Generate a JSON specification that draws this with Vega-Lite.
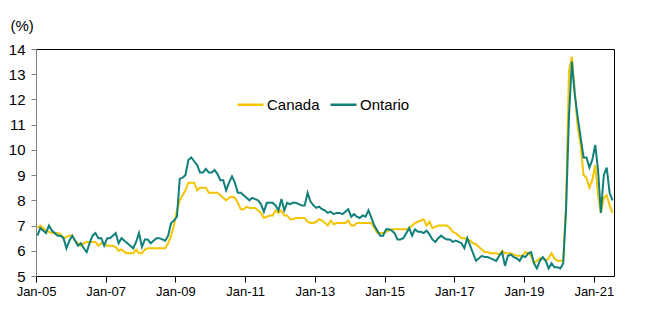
{
"$schema": "https://vega.github.io/schema/vega-lite/v6.json",
"width": 578, "height": 227,
"autosize": {"type": "none"},
"padding": {"left": 36, "top": 49, "right": 42, "bottom": 54},
"background": "white",
"config": {"view": {"stroke": "#000", "strokeWidth": 1}, "font": "Liberation Sans"},
"data": {"values": [
{"month":"2005-01","Canada":6.9,"Ontario":6.6},{"month":"2005-02","Canada":7.0,"Ontario":6.9},{"month":"2005-03","Canada":6.9,"Ontario":6.8},{"month":"2005-04","Canada":6.8,"Ontario":6.7},{"month":"2005-05","Canada":6.75,"Ontario":7.0},{"month":"2005-06","Canada":6.7,"Ontario":6.8},{"month":"2005-07","Canada":6.7,"Ontario":6.7},{"month":"2005-08","Canada":6.7,"Ontario":6.6},{"month":"2005-09","Canada":6.65,"Ontario":6.6},{"month":"2005-10","Canada":6.5,"Ontario":6.5},{"month":"2005-11","Canada":6.55,"Ontario":6.1},{"month":"2005-12","Canada":6.6,"Ontario":6.4},
{"month":"2006-01","Canada":6.6,"Ontario":6.6},{"month":"2006-02","Canada":6.4,"Ontario":6.4},{"month":"2006-03","Canada":6.3,"Ontario":6.2},{"month":"2006-04","Canada":6.2,"Ontario":6.3},{"month":"2006-05","Canada":6.3,"Ontario":6.1},{"month":"2006-06","Canada":6.35,"Ontario":5.95},{"month":"2006-07","Canada":6.35,"Ontario":6.3},{"month":"2006-08","Canada":6.35,"Ontario":6.6},{"month":"2006-09","Canada":6.35,"Ontario":6.7},{"month":"2006-10","Canada":6.2,"Ontario":6.5},{"month":"2006-11","Canada":6.3,"Ontario":6.5},{"month":"2006-12","Canada":6.3,"Ontario":6.2},
{"month":"2007-01","Canada":6.2,"Ontario":6.5},{"month":"2007-02","Canada":6.2,"Ontario":6.5},{"month":"2007-03","Canada":6.2,"Ontario":6.6},{"month":"2007-04","Canada":6.15,"Ontario":6.7},{"month":"2007-05","Canada":6.0,"Ontario":6.3},{"month":"2007-06","Canada":6.05,"Ontario":6.5},{"month":"2007-07","Canada":5.95,"Ontario":6.4},{"month":"2007-08","Canada":5.9,"Ontario":6.3},{"month":"2007-09","Canada":5.9,"Ontario":6.2},{"month":"2007-10","Canada":5.9,"Ontario":6.1},{"month":"2007-11","Canada":6.05,"Ontario":6.35},{"month":"2007-12","Canada":5.9,"Ontario":6.7},
{"month":"2008-01","Canada":5.9,"Ontario":6.15},{"month":"2008-02","Canada":6.05,"Ontario":6.45},{"month":"2008-03","Canada":6.1,"Ontario":6.45},{"month":"2008-04","Canada":6.1,"Ontario":6.3},{"month":"2008-05","Canada":6.1,"Ontario":6.4},{"month":"2008-06","Canada":6.1,"Ontario":6.5},{"month":"2008-07","Canada":6.1,"Ontario":6.5},{"month":"2008-08","Canada":6.1,"Ontario":6.45},{"month":"2008-09","Canada":6.1,"Ontario":6.4},{"month":"2008-10","Canada":6.3,"Ontario":6.6},{"month":"2008-11","Canada":6.6,"Ontario":7.1},{"month":"2008-12","Canada":7.0,"Ontario":7.2},
{"month":"2009-01","Canada":7.6,"Ontario":7.35},{"month":"2009-02","Canada":8.0,"Ontario":8.85},{"month":"2009-03","Canada":8.2,"Ontario":8.9},{"month":"2009-04","Canada":8.4,"Ontario":9.0},{"month":"2009-05","Canada":8.7,"Ontario":9.6},{"month":"2009-06","Canada":8.7,"Ontario":9.7},{"month":"2009-07","Canada":8.7,"Ontario":9.55},{"month":"2009-08","Canada":8.4,"Ontario":9.4},{"month":"2009-09","Canada":8.5,"Ontario":9.1},{"month":"2009-10","Canada":8.5,"Ontario":9.1},{"month":"2009-11","Canada":8.5,"Ontario":9.25},{"month":"2009-12","Canada":8.3,"Ontario":9.1},
{"month":"2010-01","Canada":8.3,"Ontario":9.1},{"month":"2010-02","Canada":8.3,"Ontario":9.2},{"month":"2010-03","Canada":8.3,"Ontario":9.05},{"month":"2010-04","Canada":8.2,"Ontario":8.8},{"month":"2010-05","Canada":8.1,"Ontario":8.8},{"month":"2010-06","Canada":8.0,"Ontario":8.4},{"month":"2010-07","Canada":8.1,"Ontario":8.7},{"month":"2010-08","Canada":8.15,"Ontario":8.95},{"month":"2010-09","Canada":8.1,"Ontario":8.7},{"month":"2010-10","Canada":7.9,"Ontario":8.3},{"month":"2010-11","Canada":7.65,"Ontario":8.3},{"month":"2010-12","Canada":7.65,"Ontario":8.2},
{"month":"2011-01","Canada":7.75,"Ontario":8.1},{"month":"2011-02","Canada":7.7,"Ontario":8.0},{"month":"2011-03","Canada":7.7,"Ontario":8.1},{"month":"2011-04","Canada":7.7,"Ontario":8.05},{"month":"2011-05","Canada":7.6,"Ontario":8.0},{"month":"2011-06","Canada":7.5,"Ontario":7.85},{"month":"2011-07","Canada":7.3,"Ontario":7.55},{"month":"2011-08","Canada":7.35,"Ontario":7.9},{"month":"2011-09","Canada":7.4,"Ontario":7.9},{"month":"2011-10","Canada":7.4,"Ontario":7.9},{"month":"2011-11","Canada":7.6,"Ontario":7.8},{"month":"2011-12","Canada":7.5,"Ontario":7.6},
{"month":"2012-01","Canada":7.6,"Ontario":8.05},{"month":"2012-02","Canada":7.4,"Ontario":7.6},{"month":"2012-03","Canada":7.4,"Ontario":7.9},{"month":"2012-04","Canada":7.25,"Ontario":7.85},{"month":"2012-05","Canada":7.25,"Ontario":7.9},{"month":"2012-06","Canada":7.3,"Ontario":7.9},{"month":"2012-07","Canada":7.3,"Ontario":7.85},{"month":"2012-08","Canada":7.3,"Ontario":7.8},{"month":"2012-09","Canada":7.3,"Ontario":7.8},{"month":"2012-10","Canada":7.15,"Ontario":8.3},{"month":"2012-11","Canada":7.1,"Ontario":7.95},{"month":"2012-12","Canada":7.1,"Ontario":7.8},
{"month":"2013-01","Canada":7.15,"Ontario":7.7},{"month":"2013-02","Canada":7.25,"Ontario":7.75},{"month":"2013-03","Canada":7.2,"Ontario":7.65},{"month":"2013-04","Canada":7.1,"Ontario":7.6},{"month":"2013-05","Canada":7.0,"Ontario":7.5},{"month":"2013-06","Canada":7.2,"Ontario":7.55},{"month":"2013-07","Canada":7.05,"Ontario":7.45},{"month":"2013-08","Canada":7.1,"Ontario":7.5},{"month":"2013-09","Canada":7.1,"Ontario":7.5},{"month":"2013-10","Canada":7.1,"Ontario":7.45},{"month":"2013-11","Canada":7.1,"Ontario":7.55},{"month":"2013-12","Canada":7.2,"Ontario":7.65},
{"month":"2014-01","Canada":7.0,"Ontario":7.35},{"month":"2014-02","Canada":7.0,"Ontario":7.45},{"month":"2014-03","Canada":7.1,"Ontario":7.35},{"month":"2014-04","Canada":7.1,"Ontario":7.3},{"month":"2014-05","Canada":7.1,"Ontario":7.4},{"month":"2014-06","Canada":7.1,"Ontario":7.35},{"month":"2014-07","Canada":7.1,"Ontario":7.6},{"month":"2014-08","Canada":7.1,"Ontario":7.3},{"month":"2014-09","Canada":6.9,"Ontario":7.0},{"month":"2014-10","Canada":6.7,"Ontario":6.8},{"month":"2014-11","Canada":6.7,"Ontario":6.6},{"month":"2014-12","Canada":6.7,"Ontario":6.6},
{"month":"2015-01","Canada":6.75,"Ontario":6.85},{"month":"2015-02","Canada":6.8,"Ontario":6.85},{"month":"2015-03","Canada":6.85,"Ontario":6.8},{"month":"2015-04","Canada":6.85,"Ontario":6.7},{"month":"2015-05","Canada":6.85,"Ontario":6.45},{"month":"2015-06","Canada":6.85,"Ontario":6.45},{"month":"2015-07","Canada":6.85,"Ontario":6.5},{"month":"2015-08","Canada":6.85,"Ontario":6.7},{"month":"2015-09","Canada":6.9,"Ontario":6.9},{"month":"2015-10","Canada":7.0,"Ontario":6.6},{"month":"2015-11","Canada":7.1,"Ontario":6.85},{"month":"2015-12","Canada":7.15,"Ontario":6.75},
{"month":"2016-01","Canada":7.2,"Ontario":6.75},{"month":"2016-02","Canada":7.25,"Ontario":6.7},{"month":"2016-03","Canada":7.0,"Ontario":6.8},{"month":"2016-04","Canada":7.15,"Ontario":6.65},{"month":"2016-05","Canada":6.9,"Ontario":6.45},{"month":"2016-06","Canada":6.95,"Ontario":6.35},{"month":"2016-07","Canada":7.0,"Ontario":6.5},{"month":"2016-08","Canada":7.0,"Ontario":6.6},{"month":"2016-09","Canada":7.0,"Ontario":6.5},{"month":"2016-10","Canada":7.0,"Ontario":6.45},{"month":"2016-11","Canada":6.9,"Ontario":6.45},{"month":"2016-12","Canada":6.75,"Ontario":6.35},
{"month":"2017-01","Canada":6.7,"Ontario":6.4},{"month":"2017-02","Canada":6.6,"Ontario":6.35},{"month":"2017-03","Canada":6.5,"Ontario":6.3},{"month":"2017-04","Canada":6.5,"Ontario":6.1},{"month":"2017-05","Canada":6.45,"Ontario":6.5},{"month":"2017-06","Canada":6.4,"Ontario":6.2},{"month":"2017-07","Canada":6.3,"Ontario":5.9},{"month":"2017-08","Canada":6.25,"Ontario":5.6},{"month":"2017-09","Canada":6.15,"Ontario":5.7},{"month":"2017-10","Canada":6.05,"Ontario":5.8},{"month":"2017-11","Canada":5.95,"Ontario":5.75},{"month":"2017-12","Canada":5.95,"Ontario":5.75},
{"month":"2018-01","Canada":5.9,"Ontario":5.7},{"month":"2018-02","Canada":5.9,"Ontario":5.65},{"month":"2018-03","Canada":5.9,"Ontario":5.6},{"month":"2018-04","Canada":5.85,"Ontario":5.8},{"month":"2018-05","Canada":6.0,"Ontario":5.95},{"month":"2018-06","Canada":5.9,"Ontario":5.4},{"month":"2018-07","Canada":5.9,"Ontario":5.8},{"month":"2018-08","Canada":5.9,"Ontario":5.85},{"month":"2018-09","Canada":5.85,"Ontario":5.75},{"month":"2018-10","Canada":5.8,"Ontario":5.7},{"month":"2018-11","Canada":5.8,"Ontario":5.6},{"month":"2018-12","Canada":5.8,"Ontario":5.8},
{"month":"2019-01","Canada":5.95,"Ontario":5.75},{"month":"2019-02","Canada":5.9,"Ontario":5.9},{"month":"2019-03","Canada":5.8,"Ontario":5.95},{"month":"2019-04","Canada":5.5,"Ontario":5.5},{"month":"2019-05","Canada":5.6,"Ontario":5.3},{"month":"2019-06","Canada":5.7,"Ontario":5.6},{"month":"2019-07","Canada":5.7,"Ontario":5.75},{"month":"2019-08","Canada":5.6,"Ontario":5.6},{"month":"2019-09","Canada":5.7,"Ontario":5.3},{"month":"2019-10","Canada":5.9,"Ontario":5.5},{"month":"2019-11","Canada":5.7,"Ontario":5.35},{"month":"2019-12","Canada":5.6,"Ontario":5.35},
{"month":"2020-01","Canada":5.6,"Ontario":5.3},{"month":"2020-02","Canada":5.6,"Ontario":5.5},{"month":"2020-03","Canada":7.8,"Ontario":7.6},{"month":"2020-04","Canada":13.1,"Ontario":11.3},{"month":"2020-05","Canada":13.7,"Ontario":13.5},{"month":"2020-06","Canada":12.3,"Ontario":12.2},{"month":"2020-07","Canada":10.9,"Ontario":11.3},{"month":"2020-08","Canada":10.2,"Ontario":10.5},{"month":"2020-09","Canada":9.0,"Ontario":9.7},{"month":"2020-10","Canada":8.9,"Ontario":9.7},{"month":"2020-11","Canada":8.5,"Ontario":9.3},{"month":"2020-12","Canada":8.8,"Ontario":9.6},
{"month":"2021-01","Canada":9.4,"Ontario":10.2},{"month":"2021-02","Canada":8.2,"Ontario":9.2},{"month":"2021-03","Canada":7.5,"Ontario":7.5},{"month":"2021-04","Canada":8.1,"Ontario":9.0},{"month":"2021-05","Canada":8.2,"Ontario":9.3},{"month":"2021-06","Canada":7.8,"Ontario":8.3},{"month":"2021-07","Canada":7.5,"Ontario":8.0}
]},
"transform": [{"fold": ["Canada", "Ontario"], "as": ["series", "rate"]}],
"mark": {"type": "line", "strokeWidth": 2},
"encoding": {
  "x": {"field": "month", "type": "temporal", "timeUnit": "utcyearmonth", "bandPosition": 0.5,
    "scale": {"type": "utc", "domain": [{"year": 2005, "month": 1, "date": 1, "utc": true}, {"year": 2021, "month": 8, "date": 1, "utc": true}]},
    "axis": {"title": null, "grid": false, "labelExpr": "utcFormat(datum.value, '%b-%y')",
      "values": [{"year": 2005, "month": 1, "date": 1, "utc": true}, {"year": 2007, "month": 1, "date": 1, "utc": true}, {"year": 2009, "month": 1, "date": 1, "utc": true}, {"year": 2011, "month": 1, "date": 1, "utc": true}, {"year": 2013, "month": 1, "date": 1, "utc": true}, {"year": 2015, "month": 1, "date": 1, "utc": true}, {"year": 2017, "month": 1, "date": 1, "utc": true}, {"year": 2019, "month": 1, "date": 1, "utc": true}, {"year": 2021, "month": 1, "date": 1, "utc": true}],
      "domainColor": "#000", "tickColor": "#000", "tickSize": 6, "labelFontSize": 13, "labelColor": "#000", "labelPadding": 3, "labelFlush": false, "labelOverlap": false}},
  "y": {"field": "rate", "type": "quantitative",
    "scale": {"domain": [5, 14], "nice": false, "zero": false},
    "axis": {"values": [5, 6, 7, 8, 9, 10, 11, 12, 13, 14], "title": "(%)", "titleAngle": 0, "titleX": -26, "titleY": -24, "titleAlign": "left", "titleBaseline": "middle", "titleFontSize": 15, "titleFontWeight": "normal", "titleColor": "#000", "grid": false, "domainColor": "#808080", "tickColor": "#808080", "tickSize": 5, "labelFontSize": 15, "labelColor": "#000", "labelPadding": 6}},
  "color": {"field": "series", "type": "nominal",
    "scale": {"domain": ["Canada", "Ontario"], "range": ["#F5C400", "#11807A"]},
    "legend": {"title": null, "orient": "none", "legendX": 200, "legendY": 41, "direction": "horizontal", "symbolType": "stroke", "symbolSize": 676, "symbolStrokeWidth": 2.5, "labelFontSize": 15, "labelColor": "#000", "labelOffset": 2, "columnPadding": 5, "padding": 0}}
}
}
